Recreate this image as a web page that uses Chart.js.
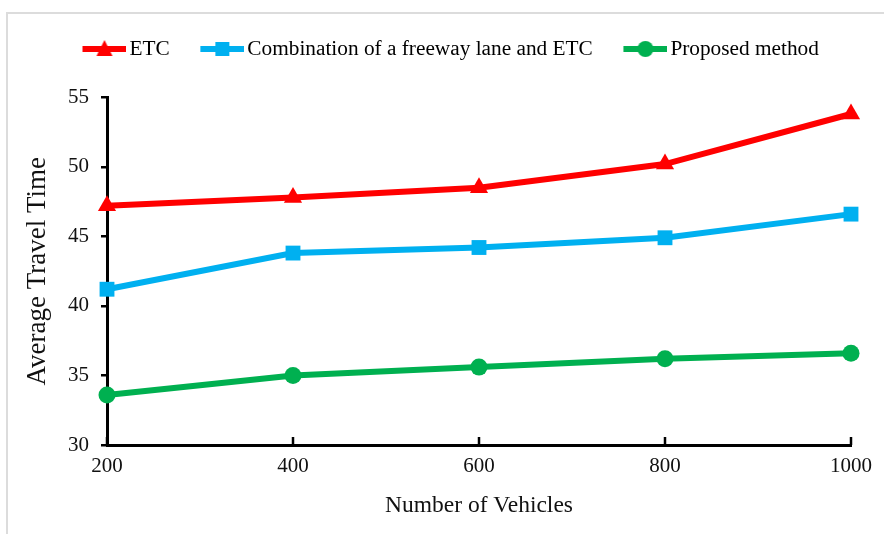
<!DOCTYPE html>
<html>
<head>
<meta charset="utf-8">
<script src="https://cdn.jsdelivr.net/npm/chart.js@4/dist/chart.umd.min.js"></script>
<style>
  html, body { margin: 0; padding: 0; background: #fff; }
  #wrap { position: relative; width: 884px; height: 534px; overflow: hidden; }
  #frame { position: absolute; left: 6px; top: 12px; width: 900px; height: 560px;
           border-top: 2px solid #dcdcdc; border-left: 2px solid #dcdcdc; }
  #c { position: absolute; left: 0; top: 0; }
</style>
</head>
<body>
<div id="wrap">
  <div id="frame"></div>
  <canvas id="c" width="884" height="534"></canvas>
</div>
<script>
// Number of vehicles on the road segment
const vehicles = [200, 400, 600, 800, 1000];
// Average travel time per method
const etcTimes = [47.2, 47.8, 48.5, 50.2, 53.8];
const comboTimes = [41.2, 43.8, 44.2, 44.9, 46.6];
const proposedTimes = [33.6, 35.0, 35.6, 36.2, 36.6];
const yTicks = [30, 35, 40, 45, 50, 55];

const seriesNames = ['ETC', 'Combination of a freeway lane and ETC', 'Proposed method'];
const seriesColors = ['#ff0000', '#00b0f0', '#00b050'];
const seriesMarkers = ['triangle', 'rect', 'circle'];

const FONT = "'Liberation Serif', 'Times New Roman', serif";

// Legend swatch: a thick line with the series marker on it.
// The image is wider than the line so the line sits just before the label.
function legendSwatch(color, marker) {
  const cv = document.createElement('canvas');
  cv.width = 82; cv.height = 20;
  const g = cv.getContext('2d');
  const x0 = 38, x1 = 82, cx = 60, cy = 10;
  g.strokeStyle = color; g.fillStyle = color; g.lineWidth = 6;
  g.beginPath(); g.moveTo(x0, cy); g.lineTo(x1, cy); g.stroke();
  g.beginPath();
  if (marker === 'triangle') {
    g.moveTo(cx, cy - 9); g.lineTo(cx + 8, cy + 7); g.lineTo(cx - 8, cy + 7); g.closePath();
  } else if (marker === 'rect') {
    g.rect(cx - 7, cy - 7, 14, 14);
  } else {
    g.arc(cx, cy, 8, 0, Math.PI * 2);
  }
  g.fill();
  return cv;
}
const swatches = seriesNames.map((n, i) => legendSwatch(seriesColors[i], seriesMarkers[i]));

function mkSet(i, data) {
  return {
    label: seriesNames[i],
    data: vehicles.map((v, k) => ({ x: v, y: data[k] })),
    borderColor: seriesColors[i],
    backgroundColor: seriesColors[i],
    borderWidth: 6,
    pointStyle: seriesMarkers[i],
    pointRadius: seriesMarkers[i] === 'circle' ? 8.5 : 10.5,
    pointBorderWidth: 0,
    tension: 0,
    clip: false
  };
}

// Short inward tick marks on the horizontal axis
const innerXTicks = {
  id: 'innerXTicks',
  afterDatasetsDraw(chart) {
    const xs = chart.scales.x, area = chart.chartArea, ctx = chart.ctx;
    ctx.save();
    ctx.strokeStyle = '#000';
    ctx.lineWidth = 2.5;
    vehicles.forEach(v => {
      const px = xs.getPixelForValue(v);
      ctx.beginPath();
      ctx.moveTo(px, area.bottom);
      ctx.lineTo(px, area.bottom - 8);
      ctx.stroke();
    });
    ctx.restore();
  }
};

new Chart(document.getElementById('c'), {
  type: 'line',
  data: { datasets: [mkSet(0, etcTimes), mkSet(1, comboTimes), mkSet(2, proposedTimes)] },
  options: {
    responsive: false,
    animation: false,
    devicePixelRatio: 1,
    layout: { padding: { top: 38, right: 33, left: 20, bottom: 10 } },
    plugins: {
      tooltip: { enabled: false },
      // empty title block used as the gap between the legend and the plot
      title: { display: true, text: '', weight: 500,
               font: { size: 10, lineHeight: 1 }, padding: { top: 0, bottom: 17.7 } },
      legend: {
        position: 'top',
        labels: {
          color: '#111',
          font: { family: FONT, size: 21.3 },
          usePointStyle: true,
          pointStyleWidth: 66.7,
          boxHeight: 20,
          padding: 0.3,
          generateLabels: () => seriesNames.map((n, i) => ({
            text: n,
            pointStyle: swatches[i],
            fillStyle: seriesColors[i],
            strokeStyle: seriesColors[i],
            lineWidth: 0,
            hidden: false,
            datasetIndex: i
          }))
        }
      }
    },
    scales: {
      x: {
        type: 'linear',
        min: 200, max: 1000,
        afterBuildTicks: s => { s.ticks = vehicles.map(v => ({ value: v })); },
        afterFit: s => { s.height = 79; },
        grid: { display: false, drawTicks: false },
        border: { display: true, color: '#000', width: 3 },
        ticks: { color: '#111', font: { family: FONT, size: 21 }, padding: 9, maxRotation: 0,
                 callback: v => String(v) },
        title: { display: true, text: 'Number of Vehicles', color: '#111',
                 font: { family: FONT, size: 23.5 }, padding: { top: 4, bottom: 4 } }
      },
      y: {
        min: 30, max: 55,
        afterBuildTicks: s => { s.ticks = yTicks.map(v => ({ value: v })); },
        afterFit: s => { s.width = 87; },
        grid: { display: true, drawOnChartArea: false, drawTicks: true, tickLength: 6,
                color: '#000', lineWidth: 2.5 },
        border: { display: true, color: '#000', width: 3 },
        ticks: { color: '#111', font: { family: FONT, size: 21 }, padding: 12 },
        title: { display: true, text: 'Average Travel Time', color: '#111',
                 font: { family: FONT, size: 27 }, padding: { top: 2, bottom: 8 } }
      }
    }
  },
  plugins: [innerXTicks]
});
</script>
</body>
</html>
